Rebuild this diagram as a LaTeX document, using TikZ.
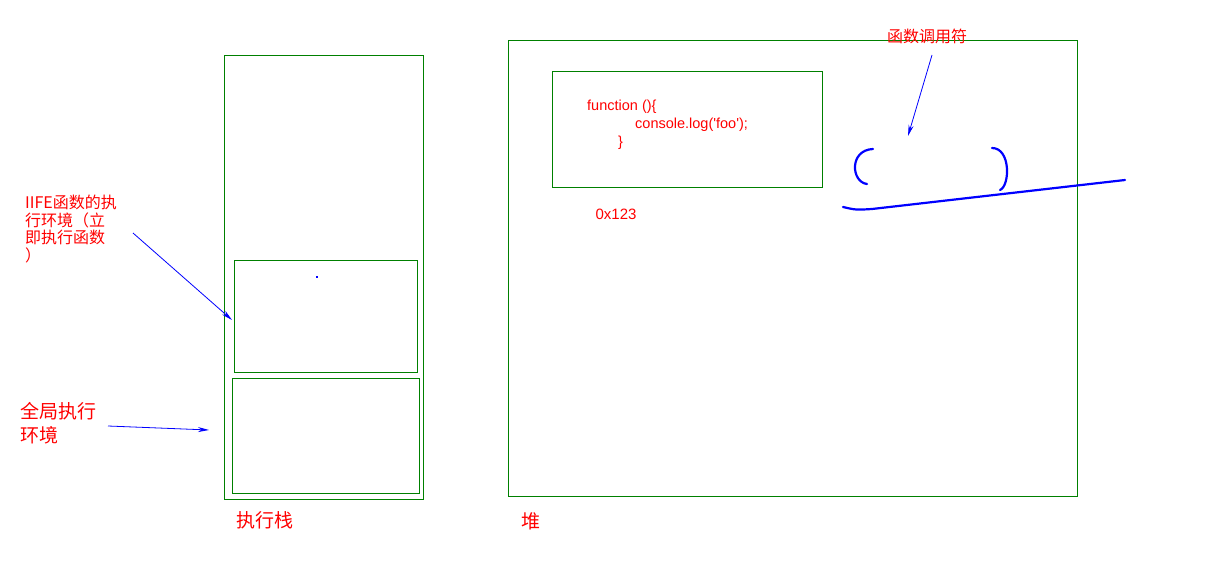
\documentclass[tikz,border=0pt]{standalone}
\usepackage{fontspec}
\setmainfont{Liberation Sans}
\newfontfamily\codefont{Liberation Sans}
\newfontfamily\cjk{Noto Sans CJK SC}
\usetikzlibrary{arrows.meta,positioning}
\definecolor{boxgreen}{RGB}{0,128,0}
\tikzset{box/.style={draw=boxgreen,line width=1pt,inner sep=0pt},
  lbl/.style={text=red,inner sep=0pt,align=left},
  code/.style={text=red,inner sep=0pt,anchor=base west,font=\codefont\fontsize{14.5}{17}\selectfont},
  ptr/.style={draw=blue,line width=0.8pt,-{Stealth[length=11pt,width=5pt]}},
  pen/.style={draw=blue,line width=2.2pt,line cap=round}}

\begin{document}
\begin{tikzpicture}[x=1pt,y=-1pt]
    \useasboundingbox (0,0) rectangle (1221,583);

    % execution stack
    \node[box,minimum width=199pt,minimum height=443pt] (stack) at (323.5,277.5) {};
    \node[box,minimum width=183pt,minimum height=112pt] (iife) at (325.5,316) {};
    \node[box,minimum width=187pt,minimum height=115pt] (global) at (325.5,435.5) {};
    \node[lbl,font=\cjk\fontsize{19}{24}\selectfont] (stacklbl) at (265,520) {执行栈};

    % heap
    \node[box,minimum width=569pt,minimum height=455pt] (heap) at (792.5,268.5) {};
    \node[box,minimum width=270pt,minimum height=115pt] (fn) at (687,129.5) {};
    \node[lbl,font=\cjk\fontsize{19}{24}\selectfont] (heaplbl) at (531,521) {堆};
    \node[code] (fn1) at (587,111) {function ()\{};
    \node[code] (fn2) at (635,129) {console.log('foo');};
    \node[code] (fn3) at (618,147) {\}};
    \node[code,anchor=center,font=\codefont\fontsize{15}{17}\selectfont] (addr) at (616,214) {0x123};

    % labels on the left
    \node[lbl,anchor=north west,font=\cjk\fontsize{16}{17.5}\selectfont] (iifelbl) at (25,195)
        {IIFE函数的执\\行环境（立\\即执行函数\\）};
    \node[lbl,anchor=north west,font=\cjk\fontsize{19}{24}\selectfont] (globallbl) at (20,402)
        {全局执行\\环境};
    \node[lbl,font=\cjk\fontsize{16}{18}\selectfont] (calllbl) at (927,36) {函数调用符};

    \coordinate (iifetail) at (133,233);
    \coordinate (iifetip) at (232,320);
    \coordinate (globaltail) at (108,426);
    \coordinate (globaltip) at (209,430);
    \coordinate (calltail) at (932,55);
    \coordinate (calltip) at (908,136);

    \draw[ptr] (iifetail) -- (iifetip);
    \draw[ptr] (globaltail) -- (globaltip);
    \draw[ptr] (calltail) -- (calltip);

    % hand drawn call parentheses
    \draw[pen] (873,149) .. controls (849,150) and (851,182) .. (867,184);
    \draw[pen] (992,148) .. controls (1011,148) and (1010,186) .. (1000,190);
    \draw[pen] (843,207) .. controls (856,210) .. (872,209) -- (1125,180);
    \fill[blue] (316,276) rectangle (318,278);
\end{tikzpicture}
\end{document}
